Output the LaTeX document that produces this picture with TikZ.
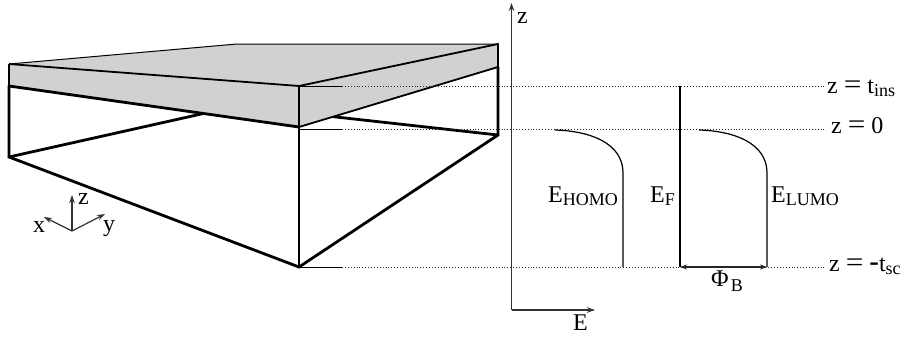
\documentclass[tikz,border=0pt]{standalone}
\usepackage{fontspec}
\setmainfont{Liberation Serif}
\usetikzlibrary{arrows.meta,positioning}

\newcommand{\lowtext}[1]{\raisebox{-3pt}{\fontsize{18}{18}\selectfont #1}}
\newcommand{\eqsign}{\scalebox{1.3}[1.15]{=}}
\newcommand{\dashsign}{\scalebox{1.2}[1.3]{-}}

\begin{document}
\begin{tikzpicture}[
    x=1pt, y=-1pt,
    heavy/.style={line width=2.8pt, line join=miter, line cap=round},
    edge/.style={line width=1.8pt, line join=miter},
    hair/.style={line width=1pt},
    curve/.style={line width=1.2pt},
    level/.style={line width=0.9pt, dotted, black!85},
    arrow/.style={-{Stealth[length=8pt,width=5.5pt]}, line width=1.2pt, black!80},
    lbl/.style={inner sep=0pt, anchor=base west, font=\fontsize{24}{24}\selectfont}
]
\useasboundingbox (0,0) rectangle (904,338);

%% ── Corners of the slab ─────────────────────────────────────────
\coordinate (topleft)   at (9,64);
\coordinate (topback)   at (237,44);
\coordinate (topright)  at (498,44);
\coordinate (topfront)  at (299,86);
\coordinate (midleft)   at (9,86);
\coordinate (midright)  at (498,67);
\coordinate (midfront)  at (299,127);
\coordinate (botleft)   at (9,157);
\coordinate (botback)   at (237,106);
\coordinate (botright)  at (498,135);
\coordinate (botfront)  at (299,267);

%% ── Semiconductor box, the insulator covers part of it ──────────
\draw[heavy] (midleft) -- (botleft) -- (botfront) -- (botright) -- (midright);
\draw[heavy] (botleft) -- (botback) -- (botright);
\draw[heavy] (midfront) -- (botfront);

%% ── Insulator ───────────────────────────────────────────────────
\fill[black!18] (topleft) -- (topback) -- (topright) -- (midright)
    -- (midfront) -- (midleft) -- cycle;
\draw[hair] (topleft) -- (topback) -- (topright);
\draw[edge] (topleft) -- (topfront) -- (topright);
\draw[edge] (topleft) -- (midleft);
\draw[edge] (topfront) -- (midfront);
\draw[heavy] (midleft) -- (midfront);
\draw[edge] (midfront) -- (midright);
\draw[heavy] (topright) -- (midright);

%% ── Levels ──────────────────────────────────────────────────────
\coordinate (insstub) at (342,86);
\coordinate (zerostub) at (342,129);
\coordinate (scstub) at (342,267);
\coordinate (insend) at (824,86);
\coordinate (zeroend) at (824,129);
\coordinate (scend) at (824,267);
\draw[hair] (topfront) -- (insstub);
\draw[hair] (midfront |- zerostub) -- (zerostub);
\draw[hair] (botfront) -- (scstub);
\draw[level] (insstub) -- (insend);
\draw[level] (zerostub) -- (zeroend);
\draw[level] (scstub) -- (scend);

%% ── Axes of the band diagram ────────────────────────────────────
\coordinate (origin) at (511.5,310);
\coordinate (ztip) at (511.5,3);
\coordinate (etip) at (595,310);
\draw[arrow] (origin) -- (ztip);
\draw[arrow] (origin) -- (etip);
\node[lbl] (zlabel) at (517,23) {z};
\node[lbl] (elabel) at (573,330) {E};

%% ── Bands ───────────────────────────────────────────────────────
\coordinate (homotop) at (555,130);
\coordinate (homobend) at (623,173);
\coordinate (homobot) at (623,267);
\coordinate (lumotop) at (699,130);
\coordinate (lumobend) at (767,173);
\coordinate (lumobot) at (767,267);
\coordinate (fermitop) at (680,86);
\coordinate (fermibot) at (680,267);
\draw[curve] (homotop) .. controls (590,131) and (623,143) .. (homobend) -- (homobot);
\draw[curve] (lumotop) .. controls (734,131) and (767,143) .. (lumobend) -- (lumobot);
\draw[line width=2.4pt] (fermitop) -- (fermibot);
\draw[{Stealth[length=7pt,width=5pt]}-{Stealth[length=7pt,width=5pt]}, line width=1.4pt, black!85] (fermibot) -- (lumobot);

\node[lbl] (homolabel) at (548,202) {E\lowtext{HOMO}};
\node[lbl] (fermilabel) at (650,202) {E\lowtext{F}};
\node[lbl] (lumolabel) at (771,202) {E\lowtext{LUMO}};
\node[lbl] (philabel) at (711,286) {Φ{\kern2pt\raisebox{-5pt}{\fontsize{18}{18}\selectfont B}}};

%% ── Level labels ────────────────────────────────────────────────
\node[lbl] (inslabel) at (827,93) {z \eqsign{} t\lowtext{ins}};
\node[lbl] (zerolabel) at (831,133) {z \eqsign{} 0};
\node[lbl] (sclabel) at (829,271) {z \eqsign{} \dashsign{}t\lowtext{sc}};

%% ── Small axes under the box ────────────────────────────────────
\coordinate (tripod) at (72,231);
\coordinate (tripodx) at (44,217);
\coordinate (tripody) at (105,214);
\coordinate (tripodz) at (72,195);
\draw[arrow] (tripod) -- (tripodx);
\draw[arrow] (tripod) -- (tripody);
\draw[arrow] (tripod) -- (tripodz);
\node[lbl] (tripodxlabel) at (33,232) {x};
\node[lbl] (tripodylabel) at (103,231) {y};
\node[lbl] (tripodzlabel) at (78,204) {z};
\end{tikzpicture}
\end{document}
